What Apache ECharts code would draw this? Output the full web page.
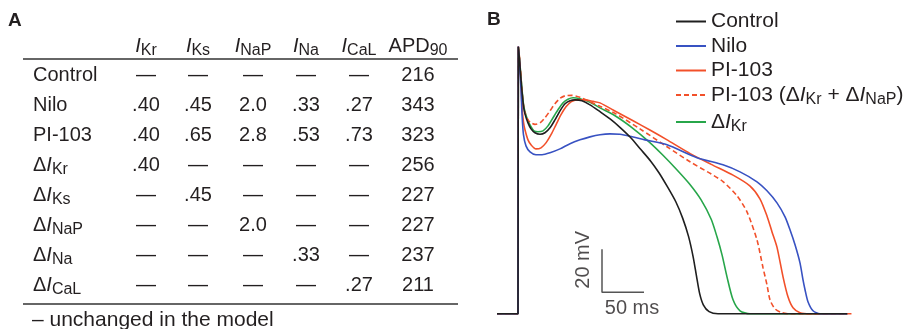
<!DOCTYPE html>
<html>
<head>
<meta charset="utf-8">
<script src="https://cdn.jsdelivr.net/npm/echarts@6/dist/echarts.min.js"></script>
<style>
  html, body { margin: 0; padding: 0; background: #fff; }
  #chart { width: 913px; height: 329px; }
</style>
</head>
<body>
<div id="chart"></div>
<script>
// ---- panel A: table ----
const colHeaders = ['IKr', 'IKs', 'INaP', 'INa', 'ICaL', 'APD90'];
const rowLabels = ['Control', 'Nilo', 'PI-103', 'ΔIKr', 'ΔIKs', 'ΔINaP', 'ΔINa', 'ΔICaL'];
const tableValues = [
  ['—', '—', '—', '—', '—', '216'],
  ['.40', '.45', '2.0', '.33', '.27', '343'],
  ['.40', '.65', '2.8', '.53', '.73', '323'],
  ['.40', '—', '—', '—', '—', '256'],
  ['—', '.45', '—', '—', '—', '227'],
  ['—', '—', '2.0', '—', '—', '227'],
  ['—', '—', '—', '.33', '—', '237'],
  ['—', '—', '—', '—', '.27', '211'],
];
const footnote = '– unchanged in the model';

// ---- panel B: action potentials, [time ms, voltage mV] ----
const apNames = ['Control', 'Nilo', 'PI-103', 'PI-103 (ΔIKr + ΔINaP)', 'ΔIKr'];
const control = [[-25,-85],[-1,-85],[0,-85],[0.4,39.2],[1.8,33.1],[3.6,23.8],[4.8,18.3],[6.5,11.7],[8.3,8],[11.9,3.8],[15.5,1],[20.2,-0.8],[26.2,-1.5],[32.1,-0.8],[38.1,1.5],[44,5.2],[50,9.4],[56,12.7],[61.9,14.1],[67.9,14.5],[76.2,14.1],[85.7,12.2],[97.6,9],[110,5.5],[122,1.5],[134,-3],[146,-8.5],[158,-14],[168,-19.5],[178,-26],[188,-33],[196,-40.5],[203,-49],[208.5,-58.5],[212.5,-67.5],[216.2,-75.5],[220.6,-80.8],[227.5,-84],[238.1,-85],[392,-85]];
const nilo = [[-25,-85],[-1,-85],[0,-85],[0.4,39.2],[1.8,32.2],[3.6,19.2],[4.8,7.6],[6.5,-1.7],[9.5,-6.9],[14.3,-9.7],[21.4,-11],[28.6,-11],[38.1,-10.1],[50,-8.3],[61.9,-5.9],[73.8,-4.1],[85.7,-2.7],[97.6,-1.7],[109.5,-1.3],[121.4,-1.5],[133.3,-2.4],[151.2,-4.1],[177.4,-6.4],[213.1,-12.4],[244,-15.7],[264.3,-19],[284.5,-23.6],[296.4,-27.8],[308.3,-33.4],[317.9,-39.9],[323.8,-45.9],[329.8,-52.9],[335.7,-61.3],[339.3,-69.2],[341.7,-73.8],[345.2,-79.4],[351.2,-83.6],[359.5,-85],[392,-85]];
const pi103 = [[-25,-85],[-1,-85],[0,-85],[0.4,39.2],[1.8,33.1],[3.6,21.5],[4.8,11.3],[6.5,4.3],[8.3,0.6],[11.9,-4.1],[15.5,-6.4],[21.4,-8.3],[27.4,-7.8],[33.3,-5.5],[39.3,-1.7],[45.2,2.9],[51.2,7.6],[57.1,11.3],[63.1,13.6],[70.2,14.5],[79.8,14.5],[89.3,13.8],[97.6,13.1],[117,9],[137,4.8],[157,0.5],[177,-4],[205,-10.5],[230,-15.5],[256,-20.5],[276,-25.5],[288,-31.5],[296.4,-39.5],[302.4,-46.9],[308.3,-54],[315.5,-67.8],[321.4,-77.1],[327.4,-82.2],[335.7,-84.5],[347.6,-85],[397,-85]];
const pi103Partial = [[-25,-85],[-1,-85],[0,-85],[0.4,39.2],[1.8,34.1],[3.6,24.8],[4.8,18.3],[6.5,12.2],[8.3,8.5],[11.9,5.2],[15.5,3.8],[20.2,3.1],[26.2,3.8],[32.1,6.2],[38.1,9.4],[44,12.7],[50,15.2],[56,16.4],[64.3,16.6],[73.8,15.7],[85.7,13.6],[97.6,11.5],[115.5,8.2],[145.2,1],[177.4,-7.3],[204.8,-14.3],[230,-20],[244,-23.5],[260.7,-30.1],[272.6,-37.6],[284.5,-50.6],[291.7,-63.6],[296.4,-71.5],[300,-78.5],[306,-82.7],[314.3,-84.5],[323.8,-85],[392,-85]];
const dIKr = [[-25,-85],[-1,-85],[0,-85],[0.4,39.2],[1.8,33.6],[3.6,24.8],[4.8,19.2],[6.5,12.7],[8.3,9],[11.9,4.8],[15.5,2],[19,0.1],[23.8,-0.3],[29.8,0.1],[35.7,2.4],[41.7,6.2],[47.6,9.9],[53.6,13.1],[59.5,14.8],[65.5,15.5],[73.8,15],[85.7,13.4],[97.6,10.8],[116,7],[136,1.5],[156,-5],[172,-11],[188,-17.5],[204,-24.5],[218,-32],[230,-41],[236.9,-49.2],[242.9,-57.6],[248.8,-67.8],[256,-78.5],[264.3,-83.6],[276.2,-85],[392,-85]];

// scale bar: corner at t0/v0, lengths dt (ms) and dv (mV)
const scaleBar = { t0: 100, v0: -75, dt: 50, dv: 20 };
const scaleLabels = ['20 mV', '50 ms'];

const FONT = '"Liberation Sans", Arial, sans-serif';
const INK = '#231f20';
const colors = ['#1f1f1f', '#3852c2', '#f2502a', '#f2502a', '#27a64a'];

// I(sub) notation -> rich text
function richify(s) {
  return s.replace(/APD90/, 'APD{s|90}').replace(/I(Kr|Ks|NaP|Na|CaL)/g, '{i|I}{s|$1}');
}
function makeRich(size) {
  return {
    i: { fontStyle: 'italic', fontSize: size, fontFamily: FONT, lineHeight: 20, color: INK },
    s: {
      fontSize: Math.round(size * 0.78), fontFamily: FONT, lineHeight: 20,
      verticalAlign: 'top', padding: [7, 0, 0, 0], color: INK,
    },
  };
}

// table layout
const tbl = {
  labelX: 33, colX: [146, 198, 253, 306, 359, 418],
  headerY: 46, rowY0: 75, rowStep: 30,
  ruleX1: 23, ruleX2: 458, topRuleY: 59, bottomRuleY: 304, footY: 320,
};

function txt(text, x, y, align, extra) {
  return {
    type: 'text', silent: true,
    style: Object.assign({
      text, x, y, align, verticalAlign: 'middle', textAlign: align, textVerticalAlign: 'middle',
      fontSize: 20, fontFamily: FONT, fill: INK, lineHeight: 20, rich: makeRich(20),
    }, extra || {}),
  };
}

const graphics = [];
graphics.push(txt('A', 8, 21, 'left', { fontWeight: 'bold', fontSize: 19 }));
graphics.push(txt('B', 487, 20, 'left', { fontWeight: 'bold', fontSize: 19 }));
colHeaders.forEach((h, j) => graphics.push(txt(richify(h), tbl.colX[j], tbl.headerY, 'center')));
rowLabels.forEach((r, i) => {
  const y = tbl.rowY0 + i * tbl.rowStep;
  graphics.push(txt(richify(r), tbl.labelX, y, 'left'));
  tableValues[i].forEach((v, j) => graphics.push(txt(v, tbl.colX[j], y, 'center')));
});
[tbl.topRuleY, tbl.bottomRuleY].forEach(y => graphics.push({
  type: 'line', silent: true,
  shape: { x1: tbl.ruleX1, y1: y, x2: tbl.ruleX2, y2: y },
  style: { stroke: '#333', lineWidth: 1.6 },
}));
graphics.push(txt(footnote, 32, tbl.footY, 'left', { fontSize: 21 }));

function apSeries(name, data, color, dashed) {
  return {
    name, type: 'line', data, symbol: 'none', smooth: 0.25,
    lineStyle: { color, width: 1.6, type: dashed ? [5, 3] : 'solid' },
    itemStyle: { color }, silent: true, animation: false,
  };
}

const sb = scaleBar;
const option = {
  backgroundColor: '#fff',
  animation: false,
  grid: { left: 497, top: 30, width: 357, height: 290.25 },
  xAxis: { type: 'value', min: -25, max: 400, show: false },
  yAxis: { type: 'value', min: -88, max: 47, show: false },
  legend: {
    data: apNames, orient: 'vertical', left: 675, top: 11, padding: 0,
    itemWidth: 30, itemHeight: 20, itemGap: 3.5, selectedMode: false,
    itemStyle: { opacity: 0 },
    textStyle: { fontSize: 21, fontFamily: FONT, color: INK, lineHeight: 20, rich: makeRich(21) },
    formatter: name => richify(name),
  },
  graphic: graphics,
  series: [
    apSeries(apNames[4], dIKr, colors[4]),
    apSeries(apNames[3], pi103Partial, colors[3], true),
    apSeries(apNames[2], pi103, colors[2]),
    apSeries(apNames[1], nilo, colors[1]),
    apSeries(apNames[0], control, colors[0]),
    {
      name: 'scale', type: 'line', symbol: 'none', silent: true,
      data: [[sb.t0, sb.v0 + sb.dv], [sb.t0, sb.v0], [sb.t0 + sb.dt, sb.v0]],
      lineStyle: { color: '#555', width: 1.5 },
    },
    {
      name: 'scaleText', type: 'scatter', symbol: 'circle', symbolSize: 1, silent: true,
      itemStyle: { color: 'rgba(0,0,0,0)' },
      data: [
        { value: [sb.t0, sb.v0 + sb.dv / 2], label: { formatter: scaleLabels[0], rotate: 90, offset: [11, -19] } },
        { value: [sb.t0 + sb.dt / 2, sb.v0], label: { formatter: scaleLabels[1], offset: [9, 16] } },
      ],
      label: { show: true, position: 'inside', fontSize: 20, fontFamily: FONT, color: INK },
    },
  ],
};

const chart = echarts.init(document.getElementById('chart'));
chart.setOption(option);
</script>
</body>
</html>
